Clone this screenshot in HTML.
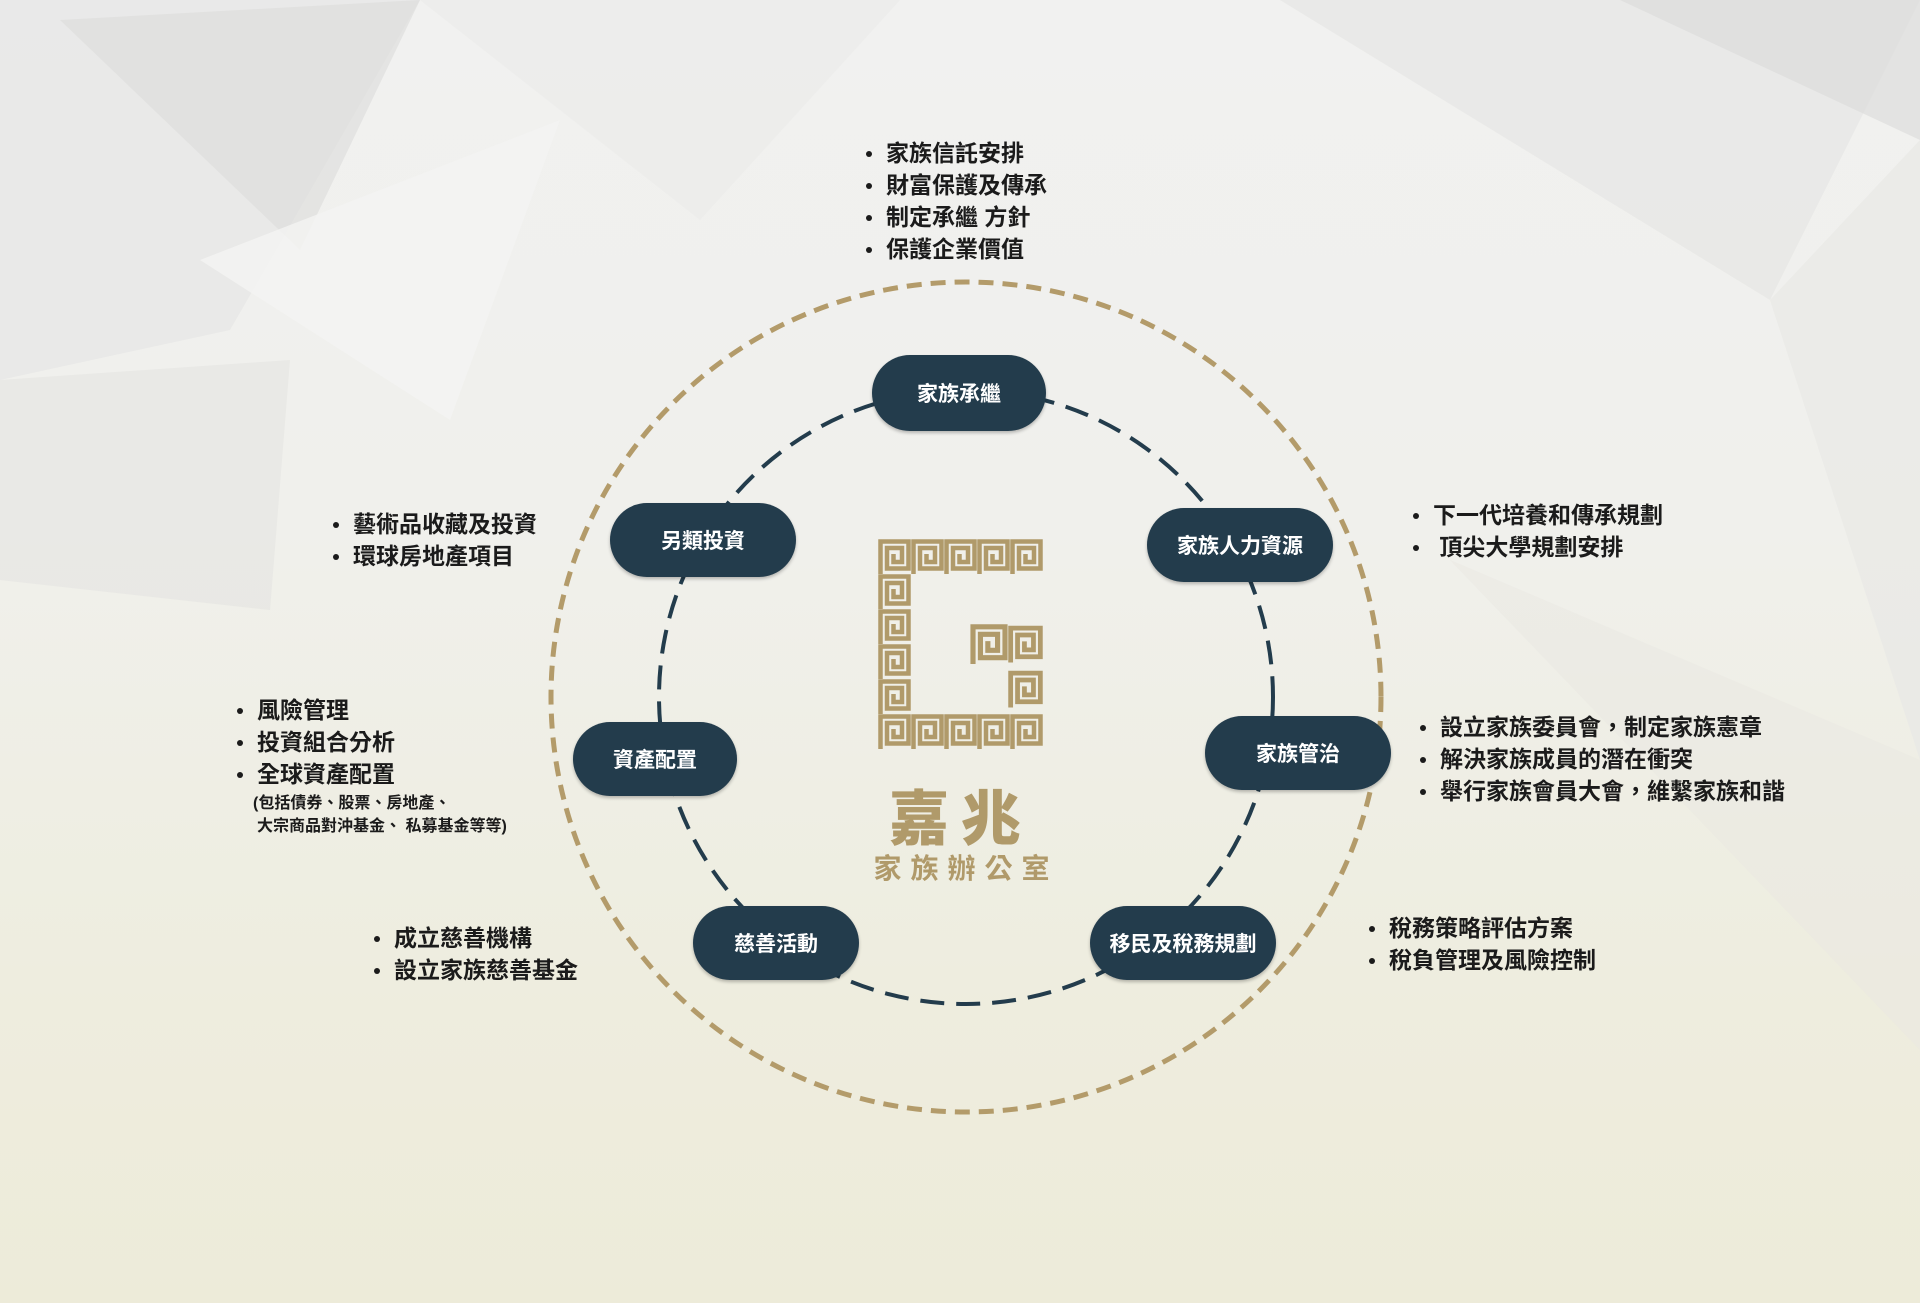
<!DOCTYPE html>
<html><head><meta charset="utf-8"><style>
html,body{margin:0;padding:0;}
body{width:1920px;height:1303px;position:relative;overflow:hidden;background:linear-gradient(180deg,#f1f1f0 0%,#f0f0ec 40%,#eeeddf 75%,#edebd9 100%);font-family:"Liberation Sans","Noto Sans CJK TC",sans-serif;}
svg{position:absolute;left:0;top:0;}
.list{position:absolute;margin:0;padding:0;list-style:none;font-weight:700;font-size:23px;color:#1b1b1b;line-height:32px;white-space:nowrap;}
.list li{position:relative;}
.list li::before{content:"";position:absolute;left:-20px;top:14px;width:6px;height:6px;border-radius:50%;background:#1b1b1b;}
.sub{font-size:16px;line-height:23px;font-weight:700;}
.sub::before{display:none}
.pill{position:absolute;background:#233c4c;color:#fff;font-weight:700;font-size:21px;border-radius:38px;display:flex;align-items:center;justify-content:center;transform:translate(-50%,-50%);box-shadow:0 2px 3px rgba(0,0,0,.25);}
</style></head><body>
<svg width="1920" height="1303">
<polygon points="0,0 420,0 230,330 0,380" fill="#e6e6e5" opacity=".7"/>
<polygon points="60,20 420,0 300,250" fill="#dcdcdb" opacity=".6"/>
<polygon points="420,0 900,0 700,220" fill="#ebebea" opacity=".7"/>
<polygon points="1280,0 1920,0 1770,300" fill="#e4e4e3" opacity=".6"/>
<polygon points="1620,0 1920,0 1920,140" fill="#dadad9" opacity=".6"/>
<polygon points="1770,300 1920,140 1920,760" fill="#e8e8e6" opacity=".7"/>
<polygon points="0,380 290,360 270,610 0,580" fill="#e2e2df" opacity=".5"/>
<polygon points="1450,560 1920,760 1920,1050" fill="#e9e8e2" opacity=".5"/>
<polygon points="200,260 560,120 450,420" fill="#f4f4f3" opacity=".8"/>
</svg>
<svg width="1920" height="1303">
<defs>
<symbol id="key" viewBox="0 0 33 35">
<path d="M2.5 35 V2.5 H30.5 V29.5 H9 V9 H24 V23 H15.5 V15" fill="none" stroke="#b09a6a" stroke-width="4.5"/>
</symbol>
</defs>
<circle cx="966" cy="697" r="415" fill="none" stroke="#b39b6a" stroke-width="5" stroke-dasharray="15 9"/>
<circle cx="966" cy="697" r="307" fill="none" stroke="#233c4c" stroke-width="4" stroke-dasharray="24 12"/>
<g transform="translate(878,539)">
<use href="#key" x="0" y="0" width="33" height="35"/><use href="#key" x="33" y="0" width="33" height="35"/><use href="#key" x="66" y="0" width="33" height="35"/><use href="#key" x="99" y="0" width="33" height="35"/><use href="#key" x="132" y="0" width="33" height="35"/>
<use href="#key" x="0" y="35" width="33" height="35"/><use href="#key" x="0" y="70" width="33" height="35"/><use href="#key" x="0" y="105" width="33" height="35"/><use href="#key" x="0" y="140" width="33" height="35"/>
<use href="#key" x="0" y="175" width="33" height="35"/><use href="#key" x="33" y="175" width="33" height="35"/><use href="#key" x="66" y="175" width="33" height="35"/><use href="#key" x="99" y="175" width="33" height="35"/><use href="#key" x="132" y="175" width="33" height="35"/>
<use href="#key" x="92" y="85" width="38" height="40"/><use href="#key" x="130" y="85" width="35" height="40"/><use href="#key" x="130" y="125" width="35" height="50"/>
</g>
</svg>
<div style="position:absolute;left:861px;top:780px;width:200px;text-align:center;font-size:60px;font-weight:900;color:#b09a6a;letter-spacing:12px;font-family:'Noto Sans CJK TC',sans-serif;line-height:70px;">嘉兆</div>
<div style="position:absolute;left:861px;top:850px;width:210px;text-align:center;font-size:28px;font-weight:700;color:#b09a6a;letter-spacing:9px;line-height:38px;">家族辦公室</div>

<div class="pill" style="left:959px;top:393px;width:174px;height:76px;">家族承繼</div>
<div class="pill" style="left:1240px;top:545px;width:186px;height:74px;">家族人力資源</div>
<div class="pill" style="left:1298px;top:753px;width:186px;height:74px;">家族管治</div>
<div class="pill" style="left:1183px;top:943px;width:186px;height:74px;">移民及稅務規劃</div>
<div class="pill" style="left:776px;top:943px;width:166px;height:74px;">慈善活動</div>
<div class="pill" style="left:655px;top:759px;width:164px;height:74px;">資產配置</div>
<div class="pill" style="left:703px;top:540px;width:186px;height:74px;">另類投資</div>

<ul class="list" style="left:886px;top:137px;">
<li>家族信託安排</li><li>財富保護及傳承</li><li>制定承繼 方針</li><li>保護企業價值</li></ul>
<ul class="list" style="left:1433px;top:499px;">
<li>下一代培養和傳承規劃</li><li>&nbsp;頂尖大學規劃安排</li></ul>
<ul class="list" style="left:1440px;top:711px;">
<li>設立家族委員會，制定家族憲章</li><li>解決家族成員的潛在衝突</li><li>舉行家族會員大會，維繫家族和諧</li></ul>
<ul class="list" style="left:1389px;top:912px;">
<li>稅務策略評估方案</li><li>稅負管理及風險控制</li></ul>
<ul class="list" style="left:353px;top:508px;">
<li>藝術品收藏及投資</li><li>環球房地產項目</li></ul>
<ul class="list" style="left:257px;top:694px;">
<li>風險管理</li><li>投資組合分析</li><li>全球資產配置</li>
<li class="sub" style="margin-left:-4px;margin-top:2px;">(包括債券、股票、房地產、</li>
<li class="sub">大宗商品對沖基金、 私募基金等等)</li></ul>
<ul class="list" style="left:394px;top:922px;">
<li>成立慈善機構</li><li>設立家族慈善基金</li></ul>
</body></html>
